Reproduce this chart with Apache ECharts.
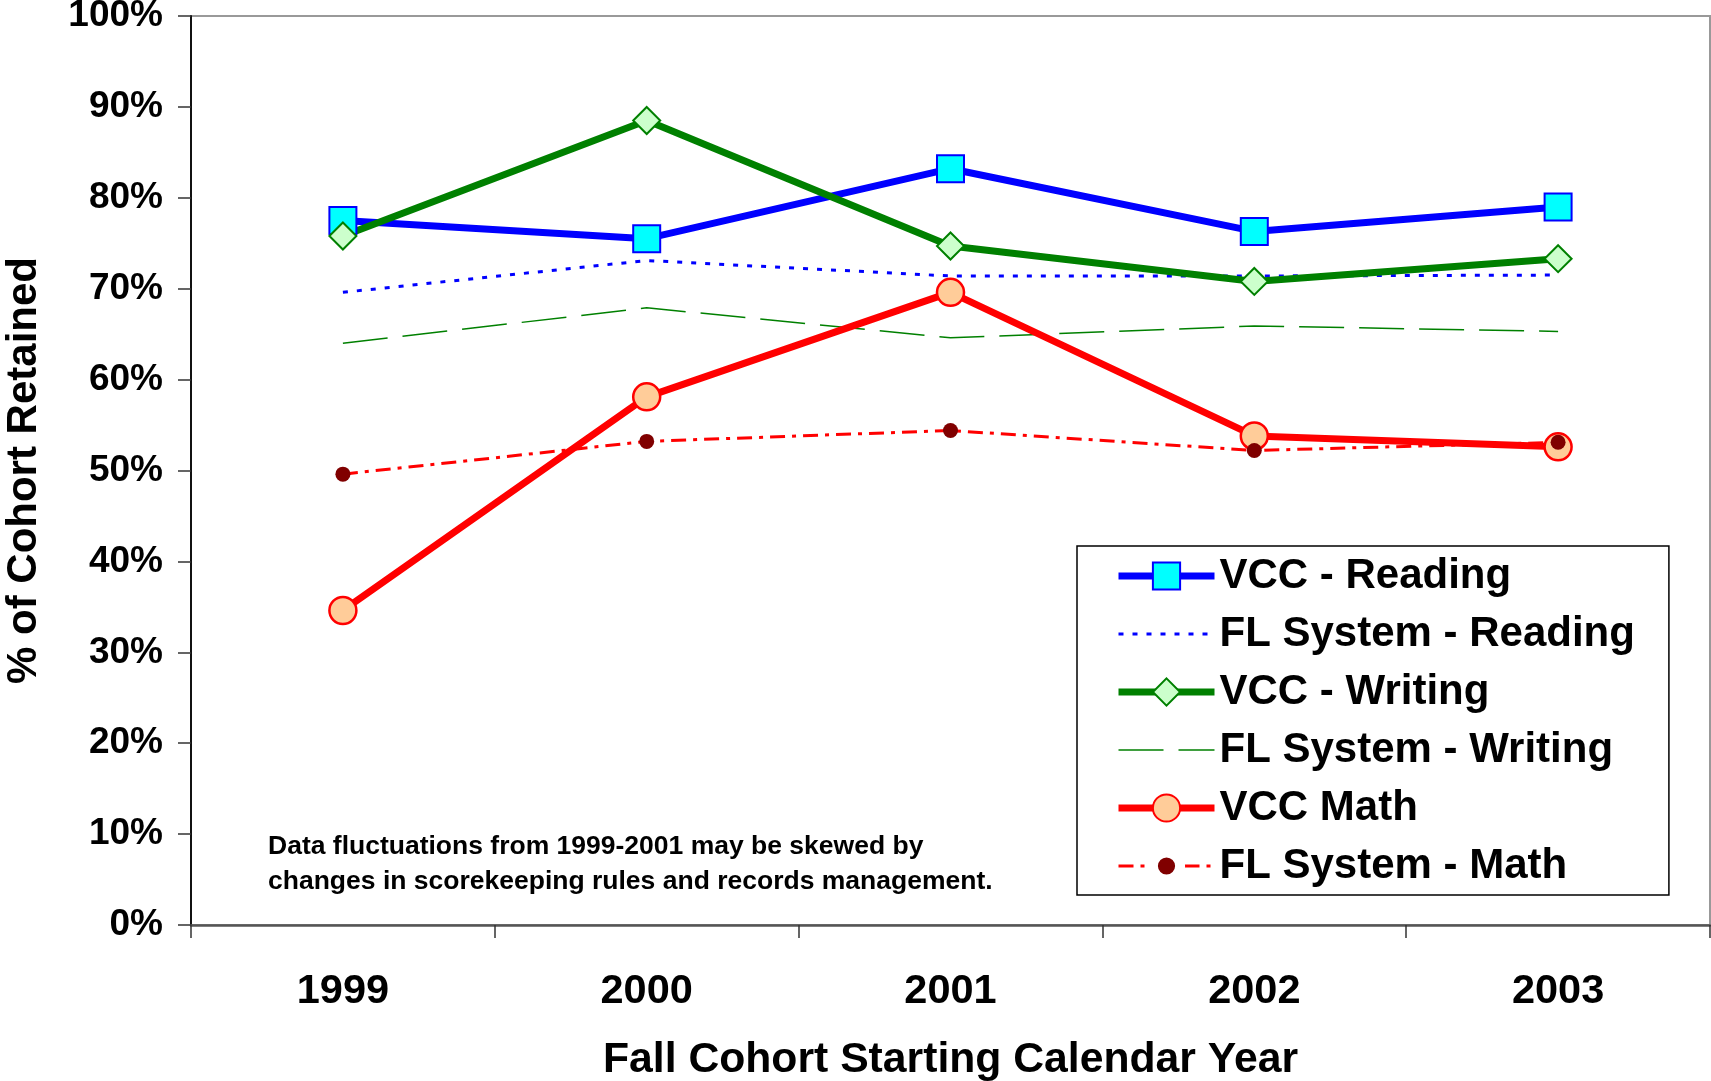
<!DOCTYPE html>
<html>
<head>
    <meta charset="UTF-8">
    <title>% of Cohort Retained</title>
    <script src="https://cdn.jsdelivr.net/npm/echarts@6/dist/echarts.min.js"></script>
    <style>
        html, body { margin: 0; padding: 0; background: #fff; }
        #chart { width: 1711px; height: 1081px; }
    </style>
</head>
<body>
    <div id="chart"></div>
    <script>
        // data (percent)
        var years = ['1999', '2000', '2001', '2002', '2003'];
        var vccReading = [77.5, 75.5, 83.2, 76.3, 79.0];
        var flReading = [69.6, 73.1, 71.4, 71.4, 71.5];
        var vccWriting = [75.8, 88.5, 74.7, 70.8, 73.3];
        var flWriting = [64.0, 67.9, 64.6, 65.9, 65.3];
        var vccMath = [34.6, 58.1, 69.6, 53.8, 52.6];
        var flMath = [49.6, 53.2, 54.4, 52.2, 53.1];

        var font = '"Liberation Sans", Arial, sans-serif';
        var hideMarker = { opacity: 0 };

        var option = {
            animation: false,
            backgroundColor: '#fff',
            textStyle: { fontFamily: font },
            grid: {
                left: 191, top: 16, right: 1, bottom: 156,
                outerBoundsMode: 'none',
                containLabel: false,
                show: true, borderColor: '#999', borderWidth: 2
            },
            legend: {
                orient: 'vertical',
                left: 1077, top: 546,
                padding: [9, 34, 8, 38],
                backgroundColor: '#fff',
                borderColor: '#000',
                borderWidth: 1.5,
                borderRadius: 0,
                itemWidth: 96,
                itemHeight: 34,
                itemGap: 16,
                lineStyle: { width: 'inherit' },
                textStyle: { fontSize: 42, fontWeight: 'bold', color: '#000', fontFamily: font, lineHeight: 42 },
                data: [
                    { name: 'VCC - Reading' },
                    { name: 'FL System - Reading', itemStyle: hideMarker },
                    { name: 'VCC - Writing' },
                    { name: 'FL System - Writing', itemStyle: hideMarker },
                    { name: 'VCC Math' },
                    { name: 'FL System - Math', itemStyle: { borderColor: '#fff', borderWidth: 10 } }
                ]
            },
            xAxis: {
                type: 'category',
                data: years,
                boundaryGap: true,
                name: 'Fall Cohort Starting Calendar Year',
                nameLocation: 'middle',
                nameGap: 114,
                nameTextStyle: { fontSize: 42.7, fontWeight: 'bold', color: '#000', fontFamily: font },
                axisLine: { lineStyle: { color: '#555', width: 2.5 } },
                axisTick: { show: true, inside: false, length: 13, lineStyle: { color: '#333', width: 1.5 } },
                axisLabel: { margin: 46, fontSize: 41.5, fontWeight: 'bold', color: '#000', fontFamily: font },
                splitLine: { show: false }
            },
            yAxis: {
                type: 'value',
                min: 0, max: 100, interval: 10,
                name: '% of Cohort Retained',
                nameLocation: 'middle',
                nameGap: 146,
                nameRotate: 90,
                nameTextStyle: { fontSize: 42, fontWeight: 'bold', color: '#000', fontFamily: font },
                axisLine: { show: true, lineStyle: { color: '#111', width: 2 } },
                axisTick: { show: true, inside: false, length: 13, lineStyle: { color: '#333', width: 1.5 } },
                axisLabel: { margin: 28, fontSize: 37, fontWeight: 'bold', color: '#000', fontFamily: font, formatter: '{value}%' },
                splitLine: { show: false }
            },
            graphic: [{
                type: 'text',
                left: 268, top: 829,
                style: {
                    text: 'Data fluctuations from 1999-2001 may be skewed by\nchanges in scorekeeping rules and records management.',
                    font: 'bold 26.5px ' + font,
                    lineHeight: 35,
                    fill: '#000'
                }
            }],
            series: [
                {
                    name: 'VCC - Reading', type: 'line', data: vccReading,
                    symbol: 'rect', symbolSize: 27,
                    lineStyle: { color: '#0000ff', width: 7 },
                    itemStyle: { color: '#00ffff', borderColor: '#0000ff', borderWidth: 2 }
                },
                {
                    name: 'FL System - Reading', type: 'line', data: flReading,
                    symbol: 'none',
                    lineStyle: { color: '#0000ff', width: 3, type: [5, 9] },
                    itemStyle: { color: '#0000ff' }
                },
                {
                    name: 'VCC - Writing', type: 'line', data: vccWriting,
                    symbol: 'diamond', symbolSize: 27,
                    lineStyle: { color: '#008000', width: 7 },
                    itemStyle: { color: '#ccffcc', borderColor: '#008000', borderWidth: 2 }
                },
                {
                    name: 'FL System - Writing', type: 'line', data: flWriting,
                    symbol: 'none',
                    lineStyle: { color: '#008000', width: 1.5, type: [45, 15] },
                    itemStyle: { color: '#008000' }
                },
                {
                    name: 'VCC Math', type: 'line', data: vccMath,
                    symbol: 'circle', symbolSize: 27,
                    lineStyle: { color: '#ff0000', width: 7 },
                    itemStyle: { color: '#ffcc99', borderColor: '#ff0000', borderWidth: 2.5 }
                },
                {
                    name: 'FL System - Math', type: 'line', data: flMath,
                    symbol: 'circle', symbolSize: 15,
                    lineStyle: { color: '#ff0000', width: 3, type: [15, 7, 4, 7] },
                    itemStyle: { color: '#800000', borderWidth: 0 }
                }
            ]
        };

        var myChart = echarts.init(document.getElementById('chart'));
        myChart.setOption(option);
    </script>
</body>
</html>
